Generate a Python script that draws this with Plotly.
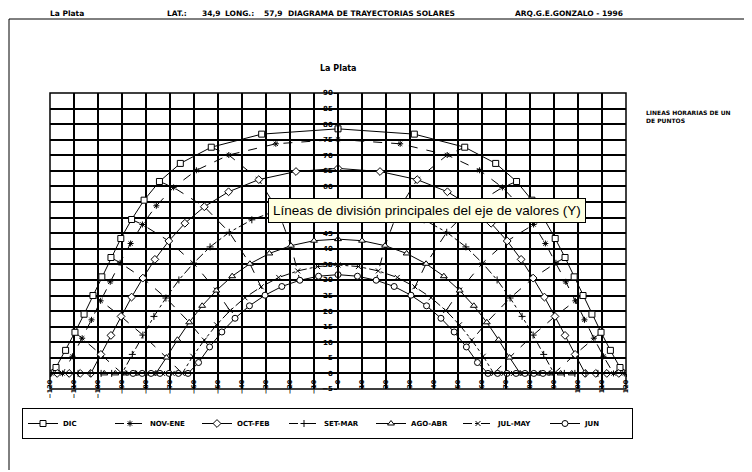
import plotly.graph_objects as go

# Solar hour of each point (half-hour steps)
HOURS = [4.0, 4.5, 5.0, 5.5, 6.0, 6.5, 7.0, 7.5, 8.0, 8.5, 9.0, 9.5, 10.0, 10.5, 11.0, 11.5,
         12.0, 12.5, 13.0, 13.5, 14.0, 14.5, 15.0, 15.5, 16.0, 16.5, 17.0, 17.5, 18.0, 18.5,
         19.0, 19.5, 20.0]

MONTHS = ["DIC", "NOV-ENE", "OCT-FEB", "SET-MAR", "AGO-ABR", "JUL-MAY", "JUN"]

# azimuth (deg) and altitude (deg)
DIC_AZ = [-126.5, -121.9, -117.5, -113.5, -109.6, -105.8, -102.1, -98.4, -94.6, -90.5, -86.0, -80.8, -74.4, -65.7, -52.8, -31.8,
          0.0, 31.8, 52.8, 65.7, 74.4, 80.8, 86.0, 90.5, 94.6, 98.4, 102.1, 105.8, 109.6, 113.5, 117.5, 121.9, 126.5]
DIC_ALT = [0.0, 0.0, 1.9, 7.4, 13.2, 19.0, 25.0, 31.0, 37.2, 43.3, 49.4, 55.6, 61.6, 67.4, 72.6, 76.8,
           78.5, 76.8, 72.6, 67.4, 61.6, 55.6, 49.4, 43.3, 37.2, 31.0, 25.0, 19.0, 13.2, 7.4, 1.9, 0.0, 0.0]

NOV_AZ = [-124.0, -119.3, -114.8, -110.6, -106.6, -102.7, -98.9, -94.9, -90.8, -86.4, -81.5, -75.7, -68.5, -59.0, -45.5, -25.9,
          0.0, 25.9, 45.5, 59.0, 68.5, 75.7, 81.5, 86.4, 90.8, 94.9, 98.9, 102.7, 106.6, 110.6, 114.8, 119.3, 124.0]
NOV_ALT = [0.0, 0.0, 0.0, 5.5, 11.3, 17.2, 23.3, 29.4, 35.5, 41.7, 47.8, 53.8, 59.7, 65.2, 70.1, 73.7,
           75.1, 73.7, 70.1, 65.2, 59.7, 53.8, 47.8, 41.7, 35.5, 29.4, 23.3, 17.2, 11.3, 5.5, 0.0, 0.0, 0.0]

OCT_AZ = [-117.0, -112.0, -107.4, -103.0, -98.8, -94.6, -90.4, -86.0, -81.3, -76.3, -70.5, -63.8, -55.7, -45.6, -33.0, -17.5,
          0.0, 17.5, 33.0, 45.6, 55.7, 63.8, 70.5, 76.3, 81.3, 86.0, 90.4, 94.6, 98.8, 103.0, 107.4, 112.0, 117.0]
OCT_ALT = [0.0, 0.0, 0.0, 0.0, 6.1, 12.2, 18.3, 24.5, 30.6, 36.6, 42.5, 48.2, 53.5, 58.3, 62.2, 64.8,
           65.8, 64.8, 62.2, 58.3, 53.5, 48.2, 42.5, 36.6, 30.6, 24.5, 18.3, 12.2, 6.1, 0.0, 0.0, 0.0, 0.0]

SET_AZ = [-108.3, -103.3, -98.7, -94.3, -90.0, -85.7, -81.3, -76.7, -71.7, -66.3, -60.2, -53.3, -45.3, -35.9, -25.1, -13.0,
          0.0, 13.0, 25.1, 35.9, 45.3, 53.3, 60.2, 66.3, 71.7, 76.7, 81.3, 85.7, 90.0, 94.3, 98.7, 103.3, 108.3]
SET_ALT = [0.0, 0.0, 0.0, 0.0, 0.0, 6.1, 12.3, 18.3, 24.2, 30.0, 35.4, 40.6, 45.3, 49.3, 52.4, 54.4,
           55.1, 54.4, 52.4, 49.3, 45.3, 40.6, 35.4, 30.0, 24.2, 18.3, 12.3, 6.1, 0.0, 0.0, 0.0, 0.0, 0.0]

AGO_AZ = [-97.4, -92.8, -88.4, -84.3, -80.1, -75.9, -71.5, -66.9, -62.0, -56.6, -50.7, -44.1, -36.7, -28.6, -19.6, -10.0,
          0.0, 10.0, 19.6, 28.6, 36.7, 44.1, 50.7, 56.6, 62.0, 66.9, 71.5, 75.9, 80.1, 84.3, 88.4, 92.8, 97.4]
AGO_ALT = [0.0, 0.0, 0.0, 0.0, 0.0, 0.0, 5.1, 10.8, 16.4, 21.7, 26.6, 31.2, 35.2, 38.5, 41.0, 42.6,
           43.1, 42.6, 41.0, 38.5, 35.2, 31.2, 26.6, 21.7, 16.4, 10.8, 5.1, 0.0, 0.0, 0.0, 0.0, 0.0, 0.0]

JUL_AZ = [-88.8, -84.7, -80.8, -77.0, -73.1, -69.1, -64.9, -60.5, -55.7, -50.6, -44.9, -38.8, -32.0, -24.7, -16.8, -8.5,
          0.0, 8.5, 16.8, 24.7, 32.0, 38.8, 44.9, 50.6, 55.7, 60.5, 64.9, 69.1, 73.1, 77.0, 80.8, 84.7, 88.8]
JUL_ALT = [0.0, 0.0, 0.0, 0.0, 0.0, 0.0, 0.0, 5.5, 10.7, 15.6, 20.2, 24.3, 27.8, 30.8, 32.9, 34.3,
           34.8, 34.3, 32.9, 30.8, 27.8, 24.3, 20.2, 15.6, 10.7, 5.5, 0.0, 0.0, 0.0, 0.0, 0.0, 0.0, 0.0]

JUN_AZ = [-85.4, -81.6, -77.9, -74.2, -70.4, -66.5, -62.5, -58.1, -53.5, -48.4, -42.9, -36.9, -30.4, -23.4, -15.9, -8.1,
          0.0, 8.1, 15.9, 23.4, 30.4, 36.9, 42.9, 48.4, 53.5, 58.1, 62.5, 66.5, 70.4, 74.2, 77.9, 81.6, 85.4]
JUN_ALT = [0.0, 0.0, 0.0, 0.0, 0.0, 0.0, 0.0, 3.5, 8.5, 13.3, 17.7, 21.7, 25.1, 27.9, 29.9, 31.2,
           31.7, 31.2, 29.9, 27.9, 25.1, 21.7, 17.7, 13.3, 8.5, 3.5, 0.0, 0.0, 0.0, 0.0, 0.0, 0.0, 0.0]

X_TICKS = list(range(-120, 121, 10))
Y_TICKS = list(range(-5, 91, 5))

AZ = [DIC_AZ, NOV_AZ, OCT_AZ, SET_AZ, AGO_AZ, JUL_AZ, JUN_AZ]
ALT = [DIC_ALT, NOV_ALT, OCT_ALT, SET_ALT, AGO_ALT, JUL_ALT, JUN_ALT]

STYLES = [
    ("square", "solid"),
    ("asterisk-open", "dash"),
    ("diamond", "solid"),
    ("cross-thin-open", "dashdot"),
    ("triangle-up", "solid"),
    ("x-thin-open", "dashdot"),
    ("circle", "solid"),
]

# page has an 8px body margin: work in screen pixels, convert to figure pixels
OFF = 8
W, H = 752 - OFF, 472 - OFF
L, R, T, B = 50, 626, 93, 389  # plot area in screen pixels


def px(x):
    return (x - L) / (R - L)


def py(y):
    return (B - y) / (B - T)


fig = go.Figure()

# hour lines (same hour joined across months)
for i, h in enumerate(HOURS):
    if float(h).is_integer():
        fig.add_trace(go.Scatter(
            x=[a[i] for a in AZ], y=[b[i] for b in ALT], mode="lines",
            line=dict(color="black", width=1, dash="dash"),
            showlegend=False, hoverinfo="skip"))

for name, az, alt, (sym, dash) in zip(MONTHS, AZ, ALT, STYLES):
    open_sym = sym.endswith("open")
    fig.add_trace(go.Scatter(
        x=az, y=alt, name=name, mode="lines+markers",
        line=dict(color="black", width=1, dash=dash),
        marker=dict(symbol=sym, size=6 if not open_sym else 5,
                    color="black" if open_sym else "white",
                    line=dict(color="black", width=1)),
    ))

axis_common = dict(showgrid=True, gridcolor="black", gridwidth=1.5,
                   zeroline=True, zerolinecolor="black", zerolinewidth=1.5,
                   showline=True, linecolor="black", linewidth=1.5,
                   ticks="outside", ticklen=3, tickcolor="black")

fig.update_xaxes(range=[-120, 120], tickvals=X_TICKS, tickangle=-90,
                 anchor="free", position=5 / 95,
                 tickfont=dict(family="DejaVu Sans", size=6.5, color="black", weight="bold"),
                 **axis_common)
fig.update_yaxes(range=[-5, 90], tickvals=Y_TICKS,
                 anchor="free", position=0.5,
                 tickfont=dict(family="DejaVu Sans", size=7, color="black", weight="bold"),
                 **axis_common)

shapes = [
    dict(type="rect", xref="paper", yref="paper", x0=0, x1=1, y0=0, y1=1,
         line=dict(color="black", width=1.5)),
    dict(type="line", xref="paper", yref="paper", x0=px(9), x1=px(760), y0=py(19), y1=py(19),
         line=dict(color="black", width=1)),
    dict(type="line", xref="paper", yref="paper", x0=px(9), x1=px(9), y0=py(19), y1=py(470),
         line=dict(color="black", width=1)),
]

hdr_font = dict(family="DejaVu Sans", size=7.5, color="black")
annotations = []
for txt, x in [("<b>La Plata</b>", 48), ("<b>LAT.:</b>", 165), ("<b>34,9</b>", 200),
               ("<b>LONG.:</b>", 223), ("<b>57,9</b>", 262),
               ("<b>DIAGRAMA DE TRAYECTORIAS SOLARES</b>", 286),
               ("<b>ARQ.G.E.GONZALO - 1996</b>", 513)]:
    annotations.append(dict(text=txt, x=px(x), y=py(13), xref="paper", yref="paper",
                            xanchor="left", yanchor="middle", showarrow=False, font=hdr_font))

annotations.append(dict(text="<b>La Plata</b>", x=px(338), y=py(68), xref="paper", yref="paper",
                        xanchor="center", yanchor="middle", showarrow=False,
                        font=dict(family="DejaVu Sans", size=8, color="black")))
annotations.append(dict(text="<b>LINEAS HORARIAS DE UN<br>DE PUNTOS</b>", x=px(644), y=py(107),
                        xref="paper", yref="paper", xanchor="left", yanchor="top", align="left",
                        showarrow=False, font=dict(family="DejaVu Sans", size=6, color="black")))
annotations.append(dict(text="Líneas de división principales del eje de valores (Y)",
                        x=px(427), y=py(210), xref="paper", yref="paper",
                        xanchor="center", yanchor="middle", showarrow=False,
                        bgcolor="#FFFFE1", bordercolor="black", borderwidth=1, borderpad=4,
                        font=dict(family="Liberation Sans", size=13.5, color="black")))

fig.update_layout(
    width=W, height=H,
    margin=dict(l=L - OFF, r=W - (R - OFF), t=T - OFF, b=H - (B - OFF), autoexpand=False),
    paper_bgcolor="white", plot_bgcolor="white",
    shapes=shapes, annotations=annotations,
    showlegend=True,
    legend=dict(orientation="h", x=px(22), y=py(408), xanchor="left", yanchor="top",
                bordercolor="black", borderwidth=1, bgcolor="white",
                font=dict(family="DejaVu Sans", size=7, color="black", weight="bold"),
                itemwidth=30, tracegroupgap=0, entrywidth=42),
)

fig.write_html("out.html")
